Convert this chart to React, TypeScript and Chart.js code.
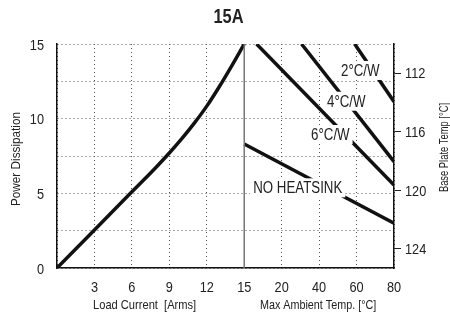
import React, { useEffect, useRef } from "react";
import { Chart, registerables } from "chart.js";

Chart.register(...registerables);

// x axis tick labels (evenly spaced positions 0..9)
const xTickLabels = ["", "3", "6", "9", "12", "15", "20", "40", "60", "80"];
// temperature part of the axis (positions 5..9)
const tempTicks = [15, 20, 40, 60, 80];
// left axis
const powerTicks = [0, 2.5, 5, 7.5, 10, 12.5, 15];
const powerTickLabels = ["0", "", "5", "", "10", "", "15"];
// right axis
const basePlateTicks = [112, 116, 120, 124];

// Power vs load current curve
const loadCurrentA = [0, 3, 6, 7, 8, 9, 10, 11, 12, 13, 14, 15];
const powerW = [0, 2.55, 5.1, 5.94, 6.8, 7.7, 8.66, 9.7, 10.84, 12.14, 13.54, 15];

// Derating lines: [start temp, end temp], [start power, end power]
const noHeatsinkTemp = [15, 80];
const noHeatsinkPower = [8.3, 3.0];
const hs6Temp = [16.65, 80];
const hs6Power = [15, 5.56];
const hs4Temp = [30.6, 80];
const hs4Power = [15, 7.12];
const hs2Temp = [59, 80];
const hs2Power = [15, 11.14];

// Line labels (anchor: centre x as temperature, baseline as power)
const labelTexts = ["2°C/W", "4°C/W", "6°C/W", "NO HEATSINK"];
const labelTemps = [62, 54.5, 46, 28.6];
const labelPowers = [12.86, 10.8, 8.57, 5.0];

const FAMILY = "'Liberation Sans', Arial, sans-serif";

function tempToPos(t: number): number {
  for (let i = 0; i < tempTicks.length - 1; i++) {
    if (t <= tempTicks[i + 1] || i === tempTicks.length - 2) {
      return 5 + i + (t - tempTicks[i]) / (tempTicks[i + 1] - tempTicks[i]);
    }
  }
  return 9;
}

function tempLine(temps: number[], powers: number[]) {
  return temps.map((t, i) => ({ x: tempToPos(t), y: powers[i] }));
}

function txt(
  ctx: CanvasRenderingContext2D,
  text: string,
  x: number,
  y: number,
  font: string,
  align: CanvasTextAlign,
  sx: number,
  rot = 0
) {
  ctx.save();
  ctx.translate(x, y);
  if (rot) ctx.rotate(rot);
  ctx.scale(sx, 1);
  ctx.font = font;
  ctx.textAlign = align;
  ctx.fillText(text, 0, 0);
  ctx.restore();
}

const textPlugin = {
  id: "textPlugin",
  afterDatasetsDraw(chart: any) {
    const { ctx, scales } = chart;
    const x = scales.x;
    const y = scales.y;
    ctx.save();
    const font = `16px ${FAMILY}`;
    ctx.font = font;
    ctx.textBaseline = "alphabetic";
    labelTexts.forEach((t, i) => {
      const sx = 0.83;
      const px = x.getPixelForValue(tempToPos(labelTemps[i]));
      const py = y.getPixelForValue(labelPowers[i]);
      ctx.font = font;
      const w = ctx.measureText(t).width * sx;
      ctx.fillStyle = "#fff";
      ctx.fillRect(px - w / 2 - 3, py - 15, w + 6, 19);
      ctx.fillStyle = "#222";
      txt(ctx, t, px, py, font, "center", sx);
    });
    ctx.restore();
  },
  afterDraw(chart: any) {
    const { ctx, scales } = chart;
    const x = scales.x;
    const y = scales.y;
    const y2 = scales.y2;
    ctx.save();
    ctx.fillStyle = "#222";
    ctx.textBaseline = "alphabetic";
    // tick labels
    const tickFont = `15px ${FAMILY}`;
    xTickLabels.forEach((l, i) => {
      if (l) txt(ctx, l, x.getPixelForValue(i), 291.5, tickFont, "center", 0.85);
    });
    powerTicks.forEach((v, i) => {
      const l = powerTickLabels[i];
      if (l) txt(ctx, l, 44, y.getPixelForValue(v) + 5.5, tickFont, "right", 0.85);
    });
    basePlateTicks.forEach((v) => {
      txt(ctx, String(v), 405, y2.getPixelForValue(v) + 5.2, tickFont, "left", 0.85);
    });
    // title
    txt(ctx, "15A", 228.5, 23.3, `bold 20px ${FAMILY}`, "center", 0.82);
    // bottom axis titles
    const axFont = `13px ${FAMILY}`;
    const leftC = (x.getPixelForValue(0) + x.getPixelForValue(5)) / 2 - 6;
    const rightC = (x.getPixelForValue(5) + x.getPixelForValue(9)) / 2 - 1;
    txt(ctx, "Load Current  [Arms]", leftC, 309, axFont, "center", 0.855);
    txt(ctx, "Max Ambient Temp. [°C]", rightC, 309, axFont, "center", 0.83);
    // side titles
    ctx.textBaseline = "middle";
    txt(ctx, "Power Dissipation", 16.5, 159, `12.5px ${FAMILY}`, "center", 0.94, -Math.PI / 2);
    txt(ctx, "Base Plate Temp [°C]", 445, 147.5, `12.5px ${FAMILY}`, "center", 0.75, -Math.PI / 2);
    ctx.restore();
  },
};

export default function App() {
  const ref = useRef<HTMLCanvasElement>(null);
  useEffect(() => {
    if (!ref.current) return;
    const chart = new Chart(ref.current, {
      type: "line",
      data: {
        datasets: [
          {
            data: [
              { x: 5, y: 0 },
              { x: 5, y: 15 },
            ],
            borderColor: "#777",
            borderWidth: 1.5,
            pointRadius: 0,
            tension: 0,
          },
          {
            data: loadCurrentA.map((a, i) => ({ x: a / 3, y: powerW[i] })),
            borderColor: "#111",
            borderWidth: 3.5,
            pointRadius: 0,
            cubicInterpolationMode: "monotone",
          },
          { data: tempLine(noHeatsinkTemp, noHeatsinkPower), borderColor: "#111", borderWidth: 3.5, pointRadius: 0 },
          { data: tempLine(hs6Temp, hs6Power), borderColor: "#111", borderWidth: 3.5, pointRadius: 0 },
          { data: tempLine(hs4Temp, hs4Power), borderColor: "#111", borderWidth: 3.5, pointRadius: 0 },
          { data: tempLine(hs2Temp, hs2Power), borderColor: "#111", borderWidth: 3.5, pointRadius: 0 },
        ],
      },
      options: {
        animation: false,
        responsive: false,
        layout: { padding: { top: 44, left: 0, right: 0, bottom: 0 } },
        plugins: { legend: { display: false }, tooltip: { enabled: false }, title: { display: false } },
        scales: {
          x: {
            type: "linear",
            min: 0,
            max: 9,
            afterBuildTicks: (s: any) => {
              s.ticks = xTickLabels.map((_, i) => ({ value: i }));
            },
            afterFit: (s: any) => {
              s.height = 45;
            },
            ticks: { display: false, autoSkip: false },
            grid: { color: "#555", lineWidth: 1, drawTicks: false },
            border: { display: true, color: "#111", width: 1.5, dash: [1, 3] },
          },
          y: {
            position: "left",
            min: 0,
            max: 15,
            afterBuildTicks: (s: any) => {
              s.ticks = powerTicks.map((v) => ({ value: v }));
            },
            afterFit: (s: any) => {
              s.width = 57;
            },
            ticks: { display: false, autoSkip: false },
            grid: { color: "#555", lineWidth: 1, drawTicks: false },
            border: { display: true, color: "#111", width: 1.5, dash: [1, 3] },
          },
          y2: {
            position: "right",
            min: 110,
            max: 125.3,
            reverse: true,
            afterBuildTicks: (s: any) => {
              s.ticks = basePlateTicks.map((v) => ({ value: v }));
            },
            afterFit: (s: any) => {
              s.width = 56;
            },
            ticks: { display: false, autoSkip: false },
            grid: { drawOnChartArea: false, drawTicks: true, tickLength: 7, tickColor: "#222", tickWidth: 1 },
            border: { display: true, color: "#111", width: 1.5 },
          },
        },
      },
      plugins: [textPlugin],
    } as any);
    return () => chart.destroy();
  }, []);
  return (
    <div style={{ position: "fixed", left: 0, top: 0, width: 450, height: 313, background: "#fff" }}>
      <canvas ref={ref} width={450} height={313} />
    </div>
  );
}
